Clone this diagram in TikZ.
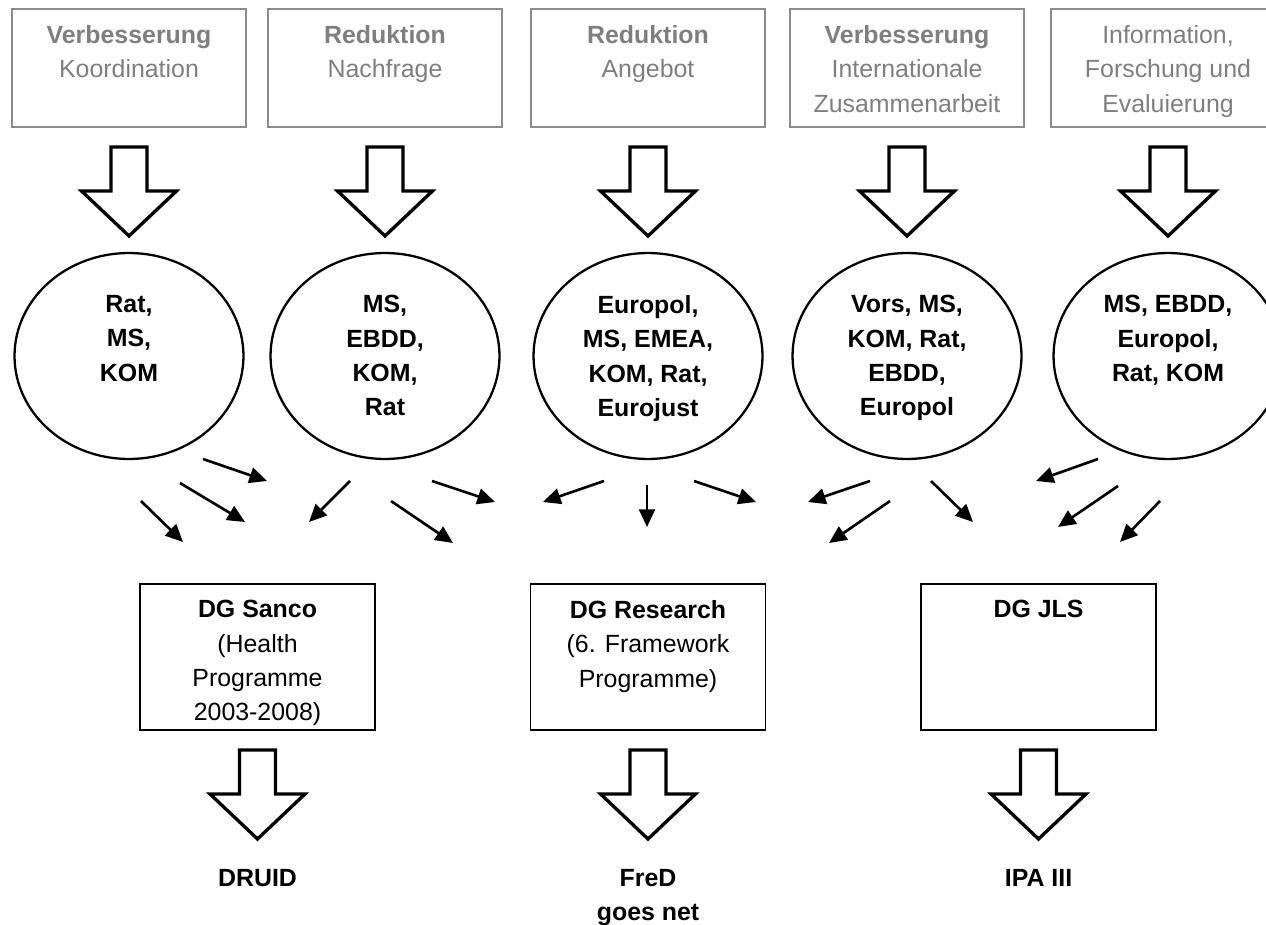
\documentclass[tikz,border=0pt]{standalone}
\usepackage{fontspec}
\setmainfont{Liberation Sans}
\usetikzlibrary{shapes.geometric,arrows.meta}

\definecolor{greyline}{HTML}{8C8C8C}
\definecolor{greytext}{HTML}{7F7F7F}

\begin{document}
\begin{tikzpicture}[x=0.02cm,y=-0.02cm,
  topbox/.style={draw=greyline,line width=0.8pt,minimum width=4.68cm,minimum height=2.36cm,inner sep=0pt,outer sep=0pt},
  toptxt/.style={anchor=north,align=center,inner sep=0pt,text=greytext,font=\fontsize{14.17}{19.56}\selectfont},
  ell/.style={draw,ellipse,line width=1.3pt,minimum width=4.58cm,minimum height=4.12cm,inner sep=0pt},
  elltxt/.style={anchor=north,align=center,inner sep=0pt,font=\fontsize{14.17}{19.56}\selectfont\bfseries},
  dgbox/.style={draw,line width=0.8pt,minimum width=4.7cm,minimum height=2.92cm,inner sep=0pt,outer sep=0pt},
  dgtxt/.style={anchor=north,align=center,inner sep=0pt,font=\fontsize{14.17}{19.56}\selectfont},
  fatarrow/.style={draw,line width=1.9pt,line join=miter},
  thinarrow/.style={line width=1.5pt,-{Triangle[length=10pt,width=9pt]}}]

%Page frame, the right column runs off the edge.
\useasboundingbox (0,0) rectangle (1266,925);
\clip (0,0) rectangle (1266,925);

%Hollow block arrow hanging below a node.
\def\blockarrow#1{\draw[fatarrow,shift={(#1)}] (-18,20) -- (18,20) -- (18,64) -- (47.5,64) -- (0,109) -- (-47.5,64) -- (-18,64) -- cycle;}

% Aims (grey boxes).
\node[topbox] (b1) at (129,68) {};
\node[topbox] (b2) at (385,68) {};
\node[topbox] (b3) at (648,68) {};
\node[topbox] (b4) at (907,68) {};
\node[topbox] (b5) at (1168,68) {};
\node[toptxt] (t1) at (129,25) {\textbf{Verbesserung}\\Koordination};
\node[toptxt] (t2) at (385,25) {\textbf{Reduktion}\\Nachfrage};
\node[toptxt] (t3) at (648,25) {\textbf{Reduktion}\\Angebot};
\node[toptxt] (t4) at (907,25) {\textbf{Verbesserung}\\Internationale\\Zusammenarbeit};
\node[toptxt] (t5) at (1168,25) {Information,\\Forschung und\\Evaluierung};

% Actors (ellipses).
\node[ell] (e1) at (129,356) {};
\node[ell] (e2) at (385,356) {};
\node[ell] (e3) at (648,356) {};
\node[ell] (e4) at (907,356) {};
\node[ell] (e5) at (1168,356) {};
\node[elltxt] (r1) at (129,295) {Rat,\\MS,\\KOM};
\node[elltxt] (r2) at (385,295) {MS,\\EBDD,\\KOM,\\Rat};
\node[elltxt] (r3) at (648,295) {Europol,\\MS, EMEA,\\KOM, Rat,\\Eurojust};
\node[elltxt] (r4) at (907,295) {Vors, MS,\\KOM, Rat,\\EBDD,\\Europol};
\node[elltxt] (r5) at (1168,295) {MS, EBDD,\\Europol,\\Rat, KOM};

\foreach \n in {b1,b2,b3,b4,b5} {\blockarrow{\n.south}}

% Funding bodies.
\node[dgbox] (d1) at (257.5,657) {};
\node[dgbox] (d2) at (648,657) {};
\node[dgbox] (d3) at (1038.5,657) {};
\node[dgtxt] (g1) at (257.5,600) {\textbf{DG Sanco}\\(Health\\Programme\\2003-2008)};
\node[dgtxt] (g2) at (648,600) {\textbf{DG Research}\\(6. Framework\\Programme)};
\node[dgtxt] (g3) at (1038.5,600) {\textbf{DG JLS}};

% Small arrows between the rows.
\foreach \i/\sx/\sy/\tx/\ty in {1/203/459/267/481, 2/180/483/245/522, 3/141/501/183/542,
    4/350/481/309/522, 5/391/501/453/543, 6/432/481/495/502, 7/604/481/543/502,
    8/647/485/647/527, 9/694/481/756/502, 10/870/481/808/502, 11/890/501/829/543,
    12/931/481/973/522, 13/1098/459/1036/481, 14/1118/486/1058/527, 15/1160/501/1120/542} {
  \coordinate (s\i) at (\sx,\sy);
  \coordinate (z\i) at (\tx,\ty);
  \draw[thinarrow] (s\i) -- (z\i);
}

% Projects.
\foreach \n in {d1,d2,d3} {\blockarrow{\n.south}}
\node[elltxt] (p1) at (257.5,869) {DRUID};
\node[elltxt] (p2) at (648,869) {FreD\\goes net};
\node[elltxt] (p3) at (1038.5,869) {IPA III};

\end{tikzpicture}
\end{document}
